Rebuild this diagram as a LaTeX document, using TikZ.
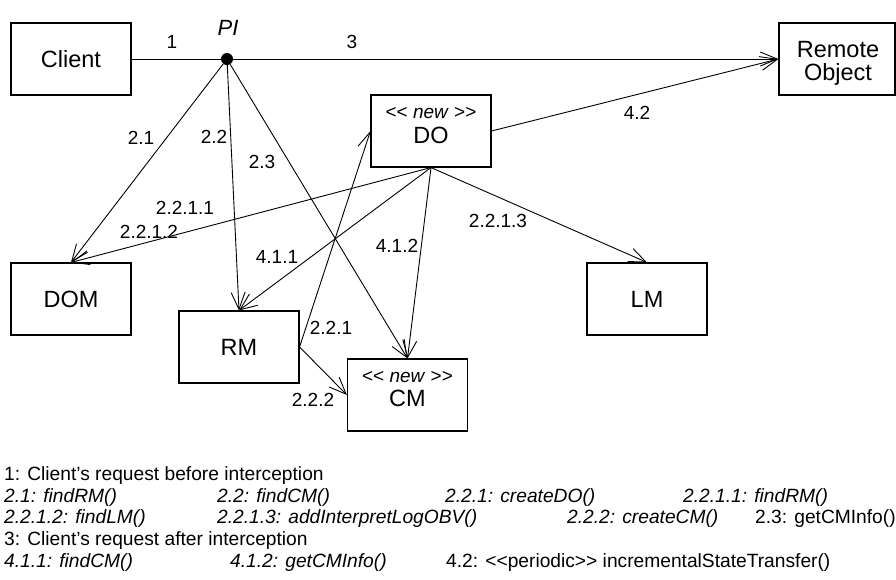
\documentclass[tikz,border=0pt]{standalone}
\usepackage{fontspec}
\setmainfont{Liberation Sans}
\usetikzlibrary{arrows.meta}
\begin{document}
\begin{tikzpicture}[x=1pt,y=-1pt,
  obj/.style={draw, line width=1.1pt, minimum width=120pt, minimum height=72pt,
    inner sep=0pt, font=\fontsize{23.5}{26}\selectfont, align=center},
  wire/.style={line width=0.9pt},
  msg/.style={wire, -{Straight Barb[length=17pt,width=14pt,line width=0.9pt]}},
  stereo/.style={inner sep=0pt, font=\fontsize{19}{20}\selectfont},
  boxtext/.style={inner sep=0pt, font=\fontsize{23.5}{23}\selectfont, align=center},
  lbl/.style={inner sep=0pt, font=\fontsize{19}{22}\selectfont},
  legend/.style={inner sep=0pt, anchor=base west, font=\fontsize{19.2}{22}\selectfont},
]
\useasboundingbox (0,0) rectangle (896,579);

% objects
\node[obj] (Client) at (71,59) {Client};
\node[obj, minimum width=116pt] (Remote) at (837,59) {};
\node[boxtext] (RemoteTxt) at (838,63) {Remote\\Object};
\node[obj] (DO) at (431,131) {};
\node[stereo] (DOst) at ([yshift=18pt]DO.center) {<\kern0pt< \textit{new} >\kern0pt>};
\node[boxtext] (DOname) at ([yshift=-4pt]DO.center) {DO};
\node[obj] (DOM) at (71,299) {DOM};
\node[obj] (RM) at (239,347) {RM};
\node[obj] (CM) at (407.5,395) {};
\node[stereo] (CMst) at ([yshift=18pt]CM.center) {<\kern0pt< \textit{new} >\kern0pt>};
\node[boxtext] (CMname) at ([yshift=-3pt]CM.center) {CM};
\node[obj] (LM) at (647,299) {LM};

% interception point
\node[circle, fill, inner sep=0pt, minimum size=12pt] (PI) at (227,59) {};
\node[inner sep=0pt, font=\fontsize{22}{24}\itshape] (PIlbl) at (228,28) {PI};

% messages
\draw[wire] (Client.east) -- (PI);
\draw[msg] (PI) -- (Remote.west);
\draw[msg] (PI) -- (DOM.north);
\draw[msg] (PI) -- (RM.north);
\draw[msg] (PI) -- (CM.north);
\draw[msg] (DO.east) -- (Remote.west);
\draw[msg] (DO.south) -- (DOM.north);
\draw[msg] (DO.south) -- (RM.north);
\draw[msg] (DO.south) -- (CM.north);
\draw[msg] (DO.south) -- (LM.north);
\draw[msg] (RM.east) -- (DO.west);
\draw[msg] (RM.east) -- (CM.west);

% sequence numbers
\node[lbl] (n1) at (172,42) {1};
\node[lbl] (n3) at (352,42) {3};
\node[lbl] (n21) at (141,138) {2.1};
\node[lbl] (n22) at (214,137) {2.2};
\node[lbl] (n23) at (262,162) {2.3};
\node[lbl] (n42) at (637,113) {4.2};
\node[lbl] (n2211) at (185,208) {2.2.1.1};
\node[lbl] (n2212) at (149,232) {2.2.1.2};
\node[lbl] (n411) at (277,257) {4.1.1};
\node[lbl] (n412) at (397,246) {4.1.2};
\node[lbl] (n2213) at (498,221) {2.2.1.3};
\node[lbl] (n221) at (331,328) {2.2.1};
\node[lbl] (n222) at (313,400) {2.2.2};

% legend
\node[legend] (l1) at (4,480) {1: Client’s request before interception};
\node[legend] (l2a) at (4,502) {\itshape 2.1: findRM()};
\node[legend] (l2b) at (217,502) {\itshape 2.2: findCM()};
\node[legend] (l2c) at (445,502) {\itshape 2.2.1: createDO()};
\node[legend] (l2d) at (683,502) {\itshape 2.2.1.1: findRM()};
\node[legend] (l3a) at (4,523) {\itshape 2.2.1.2: findLM()};
\node[legend] (l3b) at (217,523) {\itshape 2.2.1.3: addInterpretLogOBV()};
\node[legend] (l3c) at (567,523) {\itshape 2.2.2: createCM()};
\node[legend] (l3d) at (755,523) {2.3: getCMInfo()};
\node[legend] (l4) at (4,545) {3: Client’s request after interception};
\node[legend] (l5a) at (4,567) {\itshape 4.1.1: findCM()};
\node[legend] (l5b) at (230,567) {\itshape 4.1.2: getCMInfo()};
\node[legend] (l5c) at (446,567) {4.2: <\kern0pt<periodic>\kern0pt> incrementalStateTransfer()};
\end{tikzpicture}
\end{document}
